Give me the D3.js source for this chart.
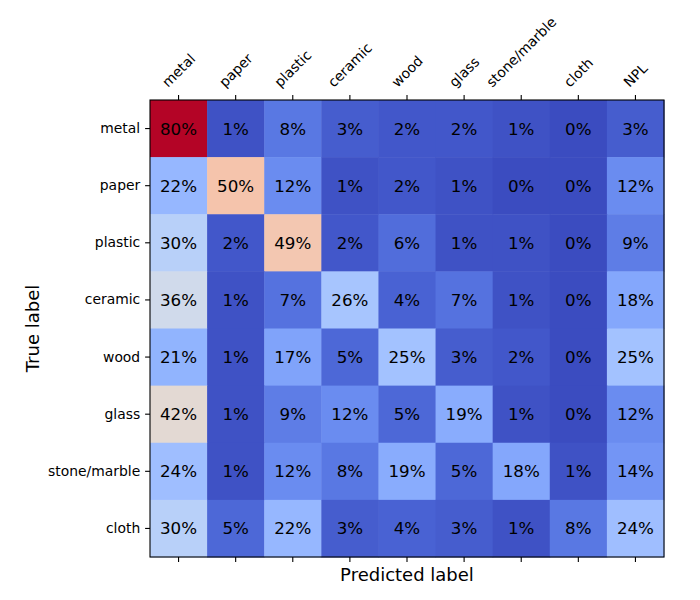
<!DOCTYPE html>
<html>
<head>
<meta charset="utf-8">
<script src="https://cdn.jsdelivr.net/npm/d3@7"></script>
<style>
  body { margin: 0; background: #fff; }
  text { font-family: "DejaVu Sans", sans-serif; fill: #000; }
</style>
</head>
<body>
<div id="chart"></div>
<script>
// Class names
var predictedLabels = ["metal", "paper", "plastic", "ceramic", "wood", "glass", "stone/marble", "cloth", "NPL"];
var trueLabels = ["metal", "paper", "plastic", "ceramic", "wood", "glass", "stone/marble", "cloth"];

// Row percentages (true label rows, predicted label columns)
var metalRow   = [80, 1, 8, 3, 2, 2, 1, 0, 3];
var paperRow   = [22, 50, 12, 1, 2, 1, 0, 0, 12];
var plasticRow = [30, 2, 49, 2, 6, 1, 1, 0, 9];
var ceramicRow = [36, 1, 7, 26, 4, 7, 1, 0, 18];
var woodRow    = [21, 1, 17, 5, 25, 3, 2, 0, 25];
var glassRow   = [42, 1, 9, 12, 5, 19, 1, 0, 12];
var stoneRow   = [24, 1, 12, 8, 19, 5, 18, 1, 14];
var clothRow   = [30, 5, 22, 3, 4, 3, 1, 8, 24];
var matrix = [metalRow, paperRow, plasticRow, ceramicRow, woodRow, glassRow, stoneRow, clothRow];

// Flatten into cells
var cells = [];
matrix.forEach(function (row, i) {
    row.forEach(function (v, j) {
        cells.push({ row: trueLabels[i], col: predictedLabels[j], value: v });
    });
});

// matplotlib "coolwarm" stops
var coolwarm = [
    [59,76,192],[68,90,204],[77,104,215],[87,117,225],[98,130,234],[108,142,241],
    [119,154,247],[130,165,251],[141,176,254],[152,185,255],[163,194,255],[174,201,253],
    [184,208,249],[194,213,244],[204,217,238],[213,219,230],[221,221,221],[229,216,209],
    [236,211,197],[241,204,184],[245,196,172],[247,187,160],[247,177,148],[247,166,137],
    [244,154,123],[241,141,112],[236,127,99],[229,112,88],[222,96,77],[213,80,66],
    [203,62,56],[192,40,47],[180,4,38]
];
var coolwarmInterp = d3.piecewise(d3.interpolateRgb, coolwarm.map(function (c) {
    return d3.rgb(c[0], c[1], c[2]);
}));

var vmin = d3.min(cells, function (d) { return d.value; });
var vmax = d3.max(cells, function (d) { return d.value; });
var colorScale = d3.scaleSequential(coolwarmInterp).domain([vmin, vmax]);

// SVG
var width = 700, height = 600;
var svg = d3.select("#chart").append("svg")
    .attr("width", width)
    .attr("height", height);

var gLeft = 150, gTop = 100, gRight = 664, gBottom = 557;

var x = d3.scaleBand().domain(predictedLabels).range([gLeft, gRight]);
var y = d3.scaleBand().domain(trueLabels).range([gTop, gBottom]);

// Cells
svg.selectAll(".cell")
    .data(cells)
    .enter()
    .append("rect")
    .attr("class", "cell")
    .attr("x", function (d) { return x(d.col); })
    .attr("y", function (d) { return y(d.row); })
    .attr("width", x.bandwidth() + 0.5)
    .attr("height", y.bandwidth() + 0.5)
    .attr("fill", function (d) { return colorScale(d.value); });

// Cell text
svg.selectAll(".cell-label")
    .data(cells)
    .enter()
    .append("text")
    .attr("class", "cell-label")
    .attr("x", function (d) { return x(d.col) + x.bandwidth() / 2; })
    .attr("y", function (d) { return y(d.row) + y.bandwidth() / 2; })
    .attr("text-anchor", "middle")
    .attr("dy", "0.36em")
    .style("font-size", "16.7px")
    .text(function (d) { return d.value + "%"; });

// Axes
var topAxis = svg.append("g")
    .attr("transform", "translate(0," + gTop + ")")
    .call(d3.axisTop(x).tickSize(4.9).tickPadding(4.9));
var bottomAxis = svg.append("g")
    .attr("transform", "translate(0," + gBottom + ")")
    .call(d3.axisBottom(x).tickSize(4.9).tickFormat(""));
var leftAxis = svg.append("g")
    .attr("transform", "translate(" + gLeft + ",0)")
    .call(d3.axisLeft(y).tickSize(4.9).tickPadding(4.9));

[topAxis, bottomAxis, leftAxis].forEach(function (g) {
    g.attr("font-family", null).attr("font-size", null);
    g.select(".domain").remove();
    g.selectAll(".tick line").attr("stroke", "#000").attr("stroke-width", 1.1);
    g.selectAll("text").attr("fill", "#000").style("font-size", "13.9px");
});

// Rotated top labels: bounding box centered on tick, bottom at pad
topAxis.selectAll(".tick text").each(function () {
    var t = d3.select(this);
    t.attr("y", 0).attr("dy", null)
        .attr("text-anchor", "middle")
        .attr("dominant-baseline", "central");
    var bb = this.getBBox();
    var h = (bb.width + bb.height) / Math.SQRT2;
    t.attr("transform", "translate(0," + (-4.9 - 4.9 - h / 2) + ") rotate(-45)");
});

// Frame
svg.append("rect")
    .attr("x", gLeft)
    .attr("y", gTop)
    .attr("width", gRight - gLeft)
    .attr("height", gBottom - gTop)
    .attr("fill", "none")
    .attr("stroke", "#000")
    .attr("stroke-width", 1.1);

// Axis titles
svg.append("text")
    .attr("text-anchor", "middle")
    .attr("x", (gLeft + gRight) / 2)
    .attr("y", 581)
    .style("font-size", "18px")
    .text("Predicted label");

svg.append("text")
    .attr("text-anchor", "middle")
    .attr("transform", "translate(39," + (gTop + gBottom) / 2 + ") rotate(-90)")
    .style("font-size", "18px")
    .text("True label");
</script>
</body>
</html>
